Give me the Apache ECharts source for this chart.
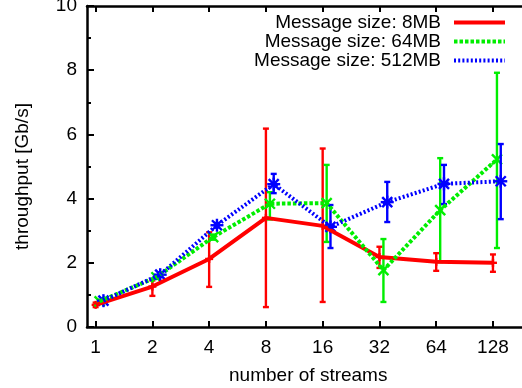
<!DOCTYPE html>
<html>
<head>
<meta charset="utf-8">
<script src="https://cdn.jsdelivr.net/npm/echarts@6/dist/echarts.min.js"></script>
<style>
  html, body { margin: 0; padding: 0; background: #fff; }
  #chart { width: 522px; height: 388px; }
</style>
</head>
<body>
<div id="chart"></div>
<script>
// number of streams (x, log2 scale) and the three message sizes
const streams = [1, 2, 4, 8, 16, 32, 64, 128];
const xRange = [0.9, 200];
const seriesNames = ['Message size: 8MB', 'Message size: 64MB', 'Message size: 512MB'];
// each series is drawn a little to the right of the previous one
const xShift = [1, 1.05, 1.1];

const mean8 = [0.69, 1.26, 2.12, 3.40, 3.15, 2.18, 2.03, 2.00];
const low8  = [0.62, 0.97, 1.25, 0.62, 0.78, 1.84, 1.75, 1.72];
const high8 = [0.76, 1.45, 2.95, 6.18, 5.56, 2.50, 2.30, 2.26];

const mean64 = [0.80, 1.55, 2.80, 3.84, 3.86, 1.77, 3.64, 5.22];
const low64  = [0.75, 1.50, 2.72, 3.35, 2.65, 0.78, 2.02, 2.46];
const high64 = [0.85, 1.60, 2.88, 4.20, 5.05, 2.74, 5.26, 7.92];

const mean512 = [0.82, 1.63, 3.17, 4.45, 3.12, 3.89, 4.46, 4.54];
const low512  = [0.77, 1.56, 3.10, 4.17, 2.46, 3.27, 3.83, 3.36];
const high512 = [0.87, 1.70, 3.24, 4.77, 3.80, 4.52, 5.05, 5.70];

const colors = ['#ff0000', '#00ee00', '#0000ff'];
const lineTypes = ['solid', [3.5, 2], [2, 2.2]];
const FONT = '"Liberation Sans", Arial, sans-serif';

const means = [mean8, mean64, mean512];
const lows = [low8, low64, low512];
const highs = [high8, high64, high512];

const log2 = v => Math.log(v) / Math.LN2;
const tickPos = streams.map(n => log2(n));

// marker shapes: plus, cross, asterisk (gnuplot point types 1..3)
function markerLines(k, p) {
  const x = p[0], y = p[1];
  const plus = r => [[x - r, y, x + r, y], [x, y - r, x, y + r]];
  const cross = r => [[x - r, y - r, x + r, y + r], [x - r, y + r, x + r, y - r]];
  if (k === 0) return plus(4);
  if (k === 1) return cross(5);
  return plus(6.5).concat(cross(5));
}

function errorItem(k) {
  return function (params, api) {
    const x = api.value(0);
    const pm = api.coord([x, api.value(1)]);
    const pl = api.coord([x, api.value(2)]);
    const ph = api.coord([x, api.value(3)]);
    const cap = 3;
    const st = { stroke: colors[k], lineWidth: 2.4, fill: null };
    const segs = [
      [pm[0], pl[1], pm[0], ph[1]],
      [pm[0] - cap, pl[1], pm[0] + cap, pl[1]],
      [pm[0] - cap, ph[1], pm[0] + cap, ph[1]]
    ].concat(markerLines(k, pm));
    return {
      type: 'group',
      children: segs.map(s => ({
        type: 'line',
        shape: { x1: s[0], y1: s[1], x2: s[2], y2: s[3] },
        style: st
      }))
    };
  };
}

const series = [];
seriesNames.forEach((name, k) => {
  const xs = streams.map(n => log2(n * xShift[k]));
  series.push({
    name: name,
    type: 'line',
    data: xs.map((x, i) => [x, means[k][i]]),
    symbol: 'none',
    color: colors[k],
    lineStyle: { color: colors[k], width: 4, type: lineTypes[k], cap: 'butt' },
    animation: false
  });
  series.push({
    name: 'err' + k,
    type: 'custom',
    data: xs.map((x, i) => [x, means[k][i], lows[k][i], highs[k][i]]),
    encode: { x: 0, y: [1, 2, 3] },
    renderItem: errorItem(k),
    animation: false
  });
});

const chart = echarts.init(document.getElementById('chart'));

const xCommon = {
  type: 'value',
  min: log2(xRange[0]),
  max: log2(xRange[1]),
  splitLine: { show: false },
  axisLine: { show: true, onZero: false, lineStyle: { color: '#000', width: 2.5 } },
  axisTick: { show: true, inside: true, length: 6, customValues: tickPos, lineStyle: { color: '#000', width: 2 } }
};

chart.setOption({
  animation: false,
  backgroundColor: '#fff',
  textStyle: { fontFamily: FONT },
  grid: { left: 87, top: 6, right: -7.5, bottom: 61, outerBoundsMode: 'none' },
  legend: {
    data: seriesNames,
    orient: 'vertical',
    align: 'right',
    right: 15,
    top: 13,
    padding: 0,
    itemGap: 0,
    itemWidth: 51,
    itemHeight: 14,
    itemStyle: { opacity: 0 },
    lineStyle: { width: 4 },
    textStyle: { fontSize: 19, color: '#000', fontFamily: FONT, lineHeight: 19, padding: [0, 8, 0, 0] }
  },
  xAxis: [
    Object.assign({}, xCommon, {
      position: 'bottom',
      name: 'number of streams',
      nameLocation: 'middle',
      nameGap: 39,
      nameTextStyle: { fontSize: 19, color: '#000', fontFamily: FONT },
      axisLabel: {
        customValues: tickPos,
        formatter: v => String(Math.round(Math.pow(2, v))),
        fontSize: 19, color: '#000', fontFamily: FONT, margin: 11
      }
    }),
    Object.assign({}, xCommon, {
      position: 'top',
      axisLabel: { show: false }
    })
  ],
  yAxis: {
    type: 'value',
    min: 0,
    max: 10,
    interval: 2,
    name: 'throughput [Gb/s]',
    nameLocation: 'middle',
    nameGap: 55,
    nameTextStyle: { fontSize: 19, color: '#000', fontFamily: FONT, padding: [0, 20, 0, 0] },
    splitLine: { show: false },
    axisLine: { show: true, onZero: false, lineStyle: { color: '#000', width: 2.5 } },
    axisTick: { show: true, inside: true, length: 7, lineStyle: { color: '#000', width: 2 } },
    minorTick: { show: true, splitNumber: 2, length: 4, lineStyle: { color: '#000', width: 2 } },
    axisLabel: { fontSize: 19, color: '#000', fontFamily: FONT, margin: 10 }
  },
  series: series
});
</script>
</body>
</html>
